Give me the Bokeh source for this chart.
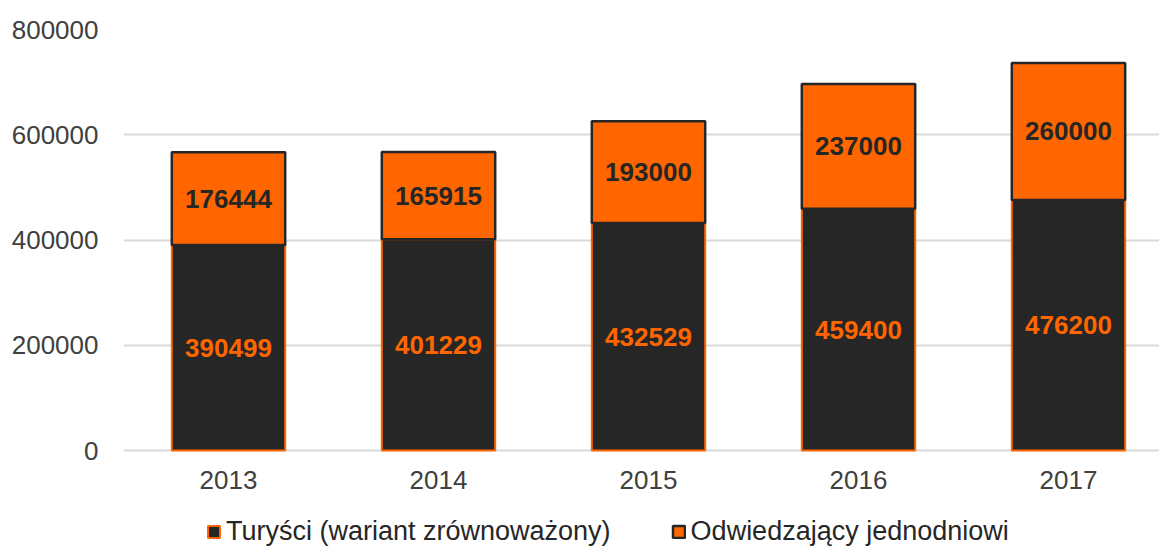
from bokeh.plotting import figure
from bokeh.models import (ColumnDataSource, Range1d, FixedTicker, Legend, LegendItem,
                          BasicTickFormatter)
from bokeh.core.properties import value
from bokeh.embed import file_html
from bokeh.resources import INLINE

years = ["2013", "2014", "2015", "2016", "2017"]
turysci = [390499, 401229, 432529, 459400, 476200]
odwiedzajacy = [176444, 165915, 193000, 237000, 260000]
y_ticks = [0, 200000, 400000, 600000, 800000]
series_names = ["Turyści (wariant zrównoważony)", "Odwiedzający jednodniowi"]

ORANGE = "#FF6600"
DARK = "#262626"
FONT = "Liberation Sans"
FS = "26px"

xs = list(range(len(years)))
top_total = [a + b for a, b in zip(turysci, odwiedzajacy)]
src = ColumnDataSource(dict(
    x=xs,
    t=turysci,
    o=odwiedzajacy,
    total=top_total,
    t_mid=[v / 2 for v in turysci],
    o_mid=[a + b / 2 for a, b in zip(turysci, odwiedzajacy)],
    t_lab=[str(v) for v in turysci],
    o_lab=[str(v) for v in odwiedzajacy],
))

# layout (pixels)
W, H = 1159, 547
LEFT, TOP = 123, 29
ZERO_PX = 450          # pixel row of the value 0
Y_MAX = 800000
plot_h = H - TOP
px_per_unit = (ZERO_PX - TOP) / Y_MAX
y_start = -(H - ZERO_PX) / px_per_unit

p = figure(width=W, height=H, output_backend="svg", toolbar_location=None,
           x_range=Range1d(-0.5, -0.5 + (W - LEFT) / 210), y_range=Range1d(y_start, Y_MAX),
           min_border_left=LEFT, min_border_right=0, min_border_top=TOP,
           min_border_bottom=0)
p.outline_line_color = None
p.background_fill_color = "white"

r1 = p.vbar(x="x", bottom=0, top="t", width=0.54, source=src,
            fill_color=DARK, line_color=ORANGE, line_width=2)
r2 = p.vbar(x="x", bottom="t", top="total", width=0.54, source=src,
            fill_color=ORANGE, line_color=DARK, line_width=2.5)

p.text(x="x", y="t_mid", text="t_lab", source=src, text_color=ORANGE,
       text_font=value(FONT), text_font_style="bold", text_font_size=FS,
       text_align="center", text_baseline="middle")
p.text(x="x", y="o_mid", text="o_lab", source=src, text_color=DARK,
       text_font=value(FONT), text_font_style="bold", text_font_size=FS,
       text_align="center", text_baseline="middle")

p.xgrid.grid_line_color = None
p.ygrid.grid_line_color = "#D9D9D9"
p.ygrid.grid_line_width = 2
p.ygrid.ticker = FixedTicker(ticks=y_ticks)

p.yaxis.ticker = FixedTicker(ticks=y_ticks)
p.yaxis.formatter = BasicTickFormatter(use_scientific=False)
p.xaxis.ticker = FixedTicker(ticks=xs)
p.xaxis.major_label_overrides = {i: y for i, y in zip(xs, years)}
p.xaxis.fixed_location = 0
for ax in (p.xaxis, p.yaxis):
    ax.axis_line_color = None
    ax.major_tick_line_color = None
    ax.minor_tick_line_color = None
    ax.major_tick_out = 0
    ax.major_tick_in = 0
    ax.major_label_text_font = FONT
    ax.major_label_text_font_size = FS
    ax.major_label_text_color = "#404040"
p.yaxis.major_label_standoff = 25
p.xaxis.major_label_standoff = 20

legend = Legend(items=[LegendItem(label=series_names[0], renderers=[r1]),
                       LegendItem(label=series_names[1], renderers=[r2])],
                orientation="horizontal", location=(83, 0),
                label_text_font=FONT, label_text_font_size="27px", label_text_color="#262626",
                glyph_width=15, glyph_height=15, label_standoff=5, spacing=60,
                padding=0, margin=0, border_line_color=None, background_fill_alpha=0)
p.add_layout(legend, "center")

open("out.html", "w").write(file_html(p, INLINE))
